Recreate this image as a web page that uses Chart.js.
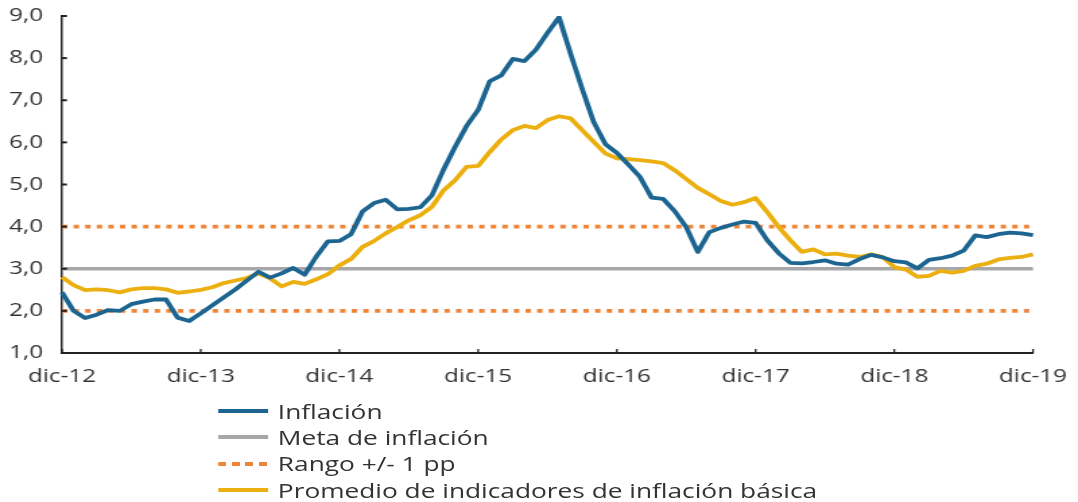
<!DOCTYPE html>
<html>
<head>
<meta charset="utf-8">
<script src="https://cdn.jsdelivr.net/npm/chart.js@4.4.0/dist/chart.umd.min.js"></script>
<style>
  body { margin: 0; background: #fff; width: 1078px; height: 502px; overflow: hidden; position: relative; font-family: 'Open Sans', sans-serif; }
  /* the reference is stretched sideways, so canvas and legend are too */
  #wrap { position: absolute; left: 0; top: 0; width: 800px; height: 502px; transform: scaleX(1.3475); transform-origin: 0 0; }
  #inflationChart { position: absolute; left: 0; top: 0; }
  #legend { position: absolute; left: 161.8px; top: 398px; }
  .item { display: flex; align-items: center; height: 26.3px; font-size: 19.5px; color: #333; }
  .swatch { width: 37px; height: 4px; margin-right: 7.4px; }
</style>
</head>
<body>
<div id="wrap">
  <canvas id="inflationChart" width="800" height="502"></canvas>
  <div id="legend"></div>
</div>
<script>
// monthly, dic-12 .. dic-19
const monthNames = ['ene', 'feb', 'mar', 'abr', 'may', 'jun', 'jul', 'ago', 'sep', 'oct', 'nov', 'dic'];
const firstYear = 12, lastYear = 19;
const tickLabels = ['dic-12', 'dic-13', 'dic-14', 'dic-15', 'dic-16', 'dic-17', 'dic-18', 'dic-19'];

const labels = ['dic-' + firstYear];
for (let y = firstYear + 1; y <= lastYear; y++) {
  monthNames.forEach(m => labels.push(m + '-' + y));
}

const inflacion = [
  2.44,
  2.00, 1.83, 1.91, 2.02, 2.00, 2.16, 2.22, 2.27, 2.27, 1.84, 1.76, 1.94,
  2.13, 2.32, 2.51, 2.72, 2.93, 2.79, 2.89, 3.02, 2.86, 3.29, 3.65, 3.66,
  3.82, 4.36, 4.56, 4.64, 4.41, 4.42, 4.46, 4.74, 5.35, 5.89, 6.39, 6.77,
  7.45, 7.59, 7.98, 7.93, 8.20, 8.60, 8.97, 8.10, 7.27, 6.48, 5.96, 5.75,
  5.47, 5.18, 4.69, 4.66, 4.37, 3.99, 3.40, 3.87, 3.97, 4.05, 4.12, 4.09,
  3.68, 3.37, 3.14, 3.13, 3.16, 3.20, 3.12, 3.10, 3.23, 3.33, 3.27, 3.18,
  3.15, 3.01, 3.21, 3.25, 3.31, 3.43, 3.79, 3.75, 3.82, 3.86, 3.84, 3.80
];

const promedioBasica = [
  2.80,
  2.61, 2.49, 2.51, 2.49, 2.44, 2.51, 2.54, 2.54, 2.51, 2.43, 2.46, 2.50,
  2.56, 2.66, 2.72, 2.78, 2.89, 2.77, 2.58, 2.69, 2.64, 2.75, 2.87, 3.08,
  3.23, 3.52, 3.66, 3.84, 3.99, 4.15, 4.27, 4.47, 4.86, 5.10, 5.42, 5.44,
  5.77, 6.07, 6.29, 6.39, 6.34, 6.53, 6.62, 6.57, 6.29, 6.01, 5.74, 5.62,
  5.60, 5.58, 5.55, 5.51, 5.34, 5.13, 4.92, 4.77, 4.61, 4.52, 4.58, 4.68,
  4.35, 3.99, 3.68, 3.40, 3.46, 3.34, 3.36, 3.31, 3.28, 3.34, 3.28, 3.04,
  2.98, 2.81, 2.83, 2.95, 2.91, 2.95, 3.07, 3.12, 3.22, 3.26, 3.28, 3.34
];

const meta = 3.0;
const rangoSup = 4.0;
const rangoInf = 2.0;

const colors = {
  inflacion: '#1b6590',
  meta: '#a7a7a9',
  rango: '#ef8537',
  basica: '#ebb00f'
};

const flat = v => [{ x: labels[0], y: v }, { x: labels[labels.length - 1], y: v }];

// inward tick marks like the original
const innerTicks = {
  id: 'innerTicks',
  afterDraw(chart) {
    const { ctx, chartArea, scales } = chart;
    ctx.save();
    ctx.strokeStyle = '#222';
    ctx.lineWidth = 1.3;
    labels.forEach((l, i) => {
      if (!tickLabels.includes(l)) return;
      const x = scales.x.getPixelForValue(i);
      ctx.beginPath();
      ctx.moveTo(x, chartArea.bottom);
      ctx.lineTo(x, chartArea.bottom - 4);
      ctx.stroke();
    });
    ctx.lineWidth = 2;
    for (let v = 1; v <= 9; v++) {
      const y = scales.y.getPixelForValue(v);
      ctx.beginPath();
      ctx.moveTo(chartArea.left, y);
      ctx.lineTo(chartArea.left + 3.7, y);
      ctx.stroke();
    }
    ctx.restore();
  }
};

Chart.defaults.font.family = "'Open Sans', sans-serif";
Chart.defaults.font.size = 18;
Chart.defaults.color = '#333';

const chart = new Chart(document.getElementById('inflationChart'), {
  type: 'line',
  data: {
    labels: labels,
    datasets: [
      { label: 'Inflación', data: inflacion, borderColor: colors.inflacion, borderWidth: 3.8, order: 0 },
      { label: 'Meta de inflación', data: flat(meta), borderColor: colors.meta, borderWidth: 3.6, order: 2 },
      { label: 'Rango +/- 1 pp', data: flat(rangoSup), borderColor: colors.rango, borderWidth: 3.6, borderDash: [4, 4.6], order: 3 },
      { label: 'Rango +/- 1 pp', data: flat(rangoInf), borderColor: colors.rango, borderWidth: 3.6, borderDash: [4, 4.6], order: 3, hideInLegend: true },
      { label: 'Promedio de indicadores de inflación básica', data: promedioBasica, borderColor: colors.basica, borderWidth: 3.8, order: 1 }
    ]
  },
  options: {
    responsive: false,
    animation: false,
    elements: {
      point: { radius: 0 },
      line: { tension: 0, borderJoinStyle: 'round', fill: false }
    },
    layout: { padding: { top: 16, right: 33.4, left: 0, bottom: 0 } },
    scales: {
      x: {
        grid: { display: false, drawTicks: false },
        border: { display: true, color: '#222', width: 2 },
        ticks: {
          autoSkip: false,
          maxRotation: 0,
          padding: 13,
          callback: (val, index) => tickLabels.includes(labels[index]) ? labels[index] : ''
        },
        afterFit: scale => {
          scale.height = 149;
          scale.paddingLeft = 0;
          scale.paddingRight = 0;
        }
      },
      y: {
        min: 1,
        max: 9,
        grid: { display: false, drawTicks: false },
        border: { display: true, color: '#222', width: 1.5 },
        ticks: {
          stepSize: 1,
          padding: 14,
          callback: value => value.toFixed(1).replace('.', ',')
        },
        afterFit: scale => {
          scale.width = 46;
          scale.paddingTop = 0;
          scale.paddingBottom = 0;
        }
      }
    },
    plugins: {
      legend: { display: false },
      tooltip: { enabled: false }
    }
  },
  plugins: [innerTicks]
});

// legend, one entry per row under the plot
const legendEl = document.getElementById('legend');
chart.data.datasets.forEach(ds => {
  if (ds.hideInLegend) return;
  const row = document.createElement('div');
  row.className = 'item';
  const sw = document.createElement('span');
  sw.className = 'swatch';
  if (ds.borderDash) {
    sw.style.background = `repeating-linear-gradient(90deg, ${ds.borderColor} 0 6px, transparent 6px 10px)`;
  } else {
    sw.style.background = ds.borderColor;
  }
  const txt = document.createElement('span');
  txt.textContent = ds.label;
  row.appendChild(sw);
  row.appendChild(txt);
  legendEl.appendChild(row);
});
</script>
</body>
</html>
